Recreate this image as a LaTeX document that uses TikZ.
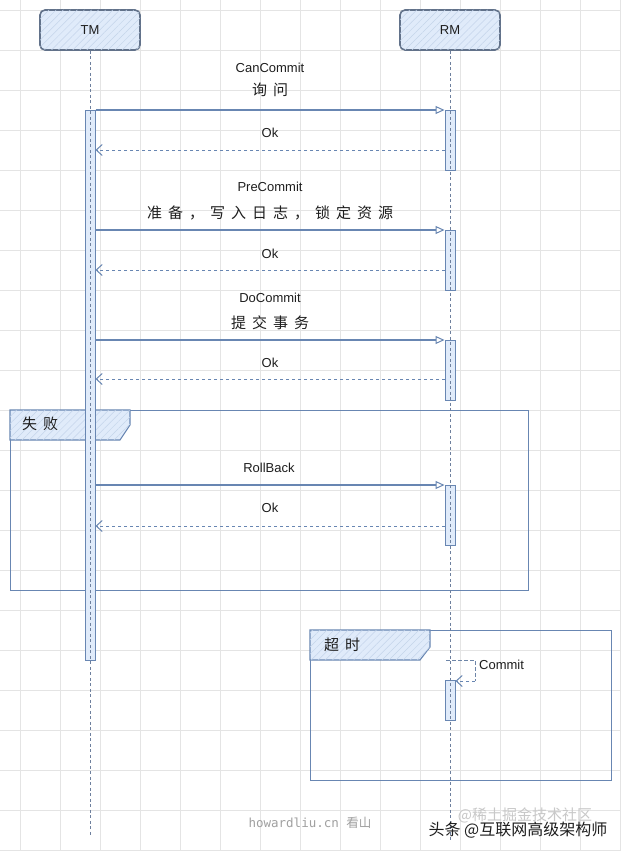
\documentclass[tikz,border=0pt]{standalone}
\usepackage{fontspec}
\setmainfont{Liberation Sans}
\newfontfamily\cjk{Noto Sans CJK SC}
\newfontfamily\cjkw[LetterSpace=40]{Noto Sans CJK SC}
\newfontfamily\monof{DejaVu Sans Mono}
\usetikzlibrary{arrows.meta,patterns.meta}
\definecolor{gridc}{RGB}{228,228,228}
\definecolor{linec}{RGB}{104,134,178}
\definecolor{boxc}{RGB}{98,114,138}
\definecolor{fillc}{RGB}{224,235,250}
\definecolor{hatchc}{RGB}{196,212,234}
\definecolor{lifec}{RGB}{110,128,158}
\definecolor{txtc}{RGB}{30,30,30}
\definecolor{wmgray}{RGB}{160,160,160}
\definecolor{wmlight}{RGB}{200,200,200}
\begin{document}
\begin{tikzpicture}[x=1pt,y=-1pt,
  gridline/.style={draw=gridc, line width=0.7pt},
  hatch/.style={postaction={pattern={Lines[angle=45,distance=5pt,line width=0.5pt]}, pattern color=hatchc}},
  actor/.style={draw=boxc, line width=1.6pt, rounded corners=5pt, fill=fillc, hatch,
    minimum width=100pt, minimum height=40pt, text=txtc, font=\fontsize{13}{15}\selectfont},
  bar/.style={draw=linec, fill=fillc, line width=1pt, minimum width=10pt, inner sep=0pt, anchor=north},
  life/.style={draw=lifec, line width=0.8pt, dash pattern=on 3pt off 2.5pt},
  msg/.style={draw=linec, line width=1.4pt, -{Triangle[open,length=9pt,width=8pt,line width=1pt]}},
  ret/.style={draw=linec, line width=1pt, dash pattern=on 3.5pt off 2.5pt, -{Straight Barb[length=6pt,width=11pt,line width=1pt]}},
  selfmsg/.style={draw=linec!80!gray, line width=1pt, dash pattern=on 3.5pt off 2.5pt},
  frame/.style={draw=linec, line width=1.1pt, anchor=north west, inner sep=0pt},
  tabshape/.style={draw=linec, line width=1.1pt, fill=fillc, hatch},
  lbl/.style={text=txtc, font=\fontsize{13}{15}\selectfont, inner sep=0pt},
  clbl/.style={text=txtc, font=\fontsize{15}{17}\selectfont\cjkw, inner sep=0pt},
]
\useasboundingbox (0,0) rectangle (621,851);
\fill[white] (0,0) rectangle (621,851);
% grid
\foreach \x in {20,60,...,620} \draw[gridline] (\x,0) -- (\x,851);
\foreach \y in {10,50,...,850} \draw[gridline] (0,\y) -- (621,\y);

% frames
\node[frame, minimum width=518pt, minimum height=180pt] (f1) at (10,410) {};
\draw[tabshape] (f1.north west) -- ++(120,0) -- ++(0,15) -- ++(-10,15) -- ++(-110,0) -- cycle;
\node[clbl] (f1l) at (40,424) {失败};

\node[frame, minimum width=301pt, minimum height=150pt] (f2) at (310,630) {};
\draw[tabshape] (f2.north west) -- ++(120,0) -- ++(0,17) -- ++(-10,13) -- ++(-110,0) -- cycle;
\node[clbl] (f2l) at (342,645) {超时};

% actors
\node[actor] (tm) at (90,30) {TM};
\node[actor] (rm) at (450,30) {RM};

% activation bars
\node[bar, minimum height=550pt] (tb) at (90,110) {};
\node[bar, minimum height=60pt] (rb1) at (450,110) {};
\node[bar, minimum height=60pt] (rb2) at (450,230) {};
\node[bar, minimum height=60pt] (rb3) at (450,340) {};
\node[bar, minimum height=60pt] (rb4) at (450,485) {};
\node[bar, minimum height=40pt] (rb5) at (450,680) {};

% lifelines
\coordinate (tmend) at (90,835);
\coordinate (rmend) at (450,840);
\draw[life] (tm.south) -- (tmend);
\draw[life] (rm.south) -- (rmend);

% CanCommit
\node[lbl] (l1) at (270,68) {CanCommit};
\node[clbl] (l1c) at (270,90) {询问};
\draw[msg] (tb.east |- rb1.north) -- (rb1.north west);
\coordinate (r1) at (445,150);
\node[lbl] (o1) at (270,133) {Ok};
\draw[ret] (r1) -- (tb.east |- r1);

% PreCommit
\node[lbl] (l2) at (270,187) {PreCommit};
\node[clbl] (l2c) at (270,213) {准备，写入日志，锁定资源};
\draw[msg] (tb.east |- rb2.north) -- (rb2.north west);
\coordinate (r2) at (445,270);
\node[lbl] (o2) at (270,254) {Ok};
\draw[ret] (r2) -- (tb.east |- r2);

% DoCommit
\node[lbl] (l3) at (270,298) {DoCommit};
\node[clbl] (l3c) at (270,323) {提交事务};
\draw[msg] (tb.east |- rb3.north) -- (rb3.north west);
\coordinate (r3) at (445,379);
\node[lbl] (o3) at (270,363) {Ok};
\draw[ret] (r3) -- (tb.east |- r3);

% RollBack
\node[lbl] (l4) at (269,468) {RollBack};
\draw[msg] (tb.east |- rb4.north) -- (rb4.north west);
\coordinate (r4) at (445,526);
\node[lbl] (o4) at (270,508) {Ok};
\draw[ret] (r4) -- (tb.east |- r4);

% self commit
\coordinate (s0) at (446,660);
\coordinate (s1) at (475,660);
\coordinate (s2) at (475,681);
\draw[selfmsg] (s0) -- (s1) -- (s2);
\draw[ret] (s2) -- (rb5.east |- s2);
\node[lbl, anchor=west] (l5) at (479,665) {Commit};

% footer texts
\node[text=wmgray, font=\fontsize{12.5}{14}\selectfont\monof, inner sep=0pt] (ft) at (310,823) {howardliu.cn {\cjk 看山}};
\node[text=wmlight, font=\fontsize{15}{17}\selectfont\cjk, inner sep=0pt] (wm1) at (525,815) {@稀土掘金技术社区};
\node[text=txtc, font=\fontsize{16}{18}\selectfont\cjk, inner sep=0pt] (wm2) at (518,830) {头条 @互联网高级架构师};
\end{tikzpicture}
\end{document}
